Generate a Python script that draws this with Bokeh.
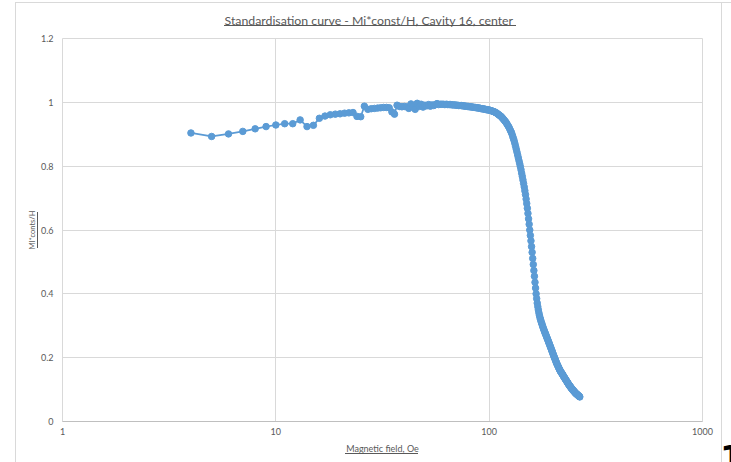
from bokeh.plotting import figure
from bokeh.models import (FixedTicker, CustomJSTickFormatter, ColumnDataSource, InlineStyleSheet)
from bokeh.embed import file_html
from bokeh.resources import INLINE

# ---------------- data ----------------
field_start = 4
field_stop = 266
field = list(range(field_start, field_stop + 1))   # measurement grid, 1 Oe steps

low_field = [0.904, 0.893, 0.901, 0.909, 0.917, 0.924, 0.929, 0.933, 0.933, 0.945,
             0.924, 0.928, 0.950, 0.957, 0.961, 0.963, 0.964, 0.966, 0.967, 0.968,
             0.956, 0.955, 0.988]                                   # 4..26
plateau = [0.978, 0.980, 0.981, 0.982, 0.983, 0.984, 0.984, 0.983, 0.970, 0.963,   # 27..36
           0.991, 0.987, 0.986, 0.987, 0.986, 0.981, 0.995, 0.986, 0.978, 0.997,   # 37..46
           0.987, 0.994, 0.985, 0.991, 0.989, 0.993, 0.988, 0.992, 0.990, 0.993,   # 47..56
           0.996, 0.993, 0.994, 0.994, 0.994, 0.993, 0.994, 0.993, 0.993, 0.993,   # 57..66
           0.992, 0.992, 0.992, 0.991, 0.991, 0.990, 0.990, 0.990, 0.989, 0.989,   # 67..76
           0.988, 0.988, 0.987, 0.987, 0.986, 0.986, 0.985, 0.985, 0.984, 0.984,   # 77..86
           0.983, 0.983, 0.982, 0.982, 0.981, 0.980, 0.980, 0.979, 0.979, 0.978,   # 87..96
           0.977, 0.977, 0.976]                                                    # 97..99
descent = [0.976, 0.975, 0.974, 0.973, 0.972, 0.971, 0.970, 0.968, 0.967, 0.965,   # 100..109
           0.963, 0.961, 0.959, 0.957, 0.955, 0.952, 0.949, 0.946, 0.943, 0.940,   # 110..119
           0.937, 0.933, 0.929, 0.925, 0.921, 0.916, 0.911, 0.906, 0.900, 0.893,   # 120..129
           0.886, 0.879, 0.871, 0.862, 0.853, 0.844, 0.835, 0.826, 0.817, 0.808,   # 130..139
           0.799, 0.789, 0.778, 0.768, 0.757, 0.746, 0.735, 0.723, 0.711, 0.697,   # 140..149
           0.683, 0.668, 0.652, 0.635, 0.618, 0.600, 0.583, 0.566, 0.548, 0.530,   # 150..159
           0.511, 0.492, 0.473, 0.455, 0.436, 0.418, 0.400, 0.385, 0.371, 0.360,   # 160..169
           0.350, 0.341, 0.333, 0.326, 0.320, 0.314, 0.309, 0.304, 0.299, 0.294]   # 170..179
tail = [0.290, 0.285, 0.281, 0.277, 0.273, 0.269, 0.265, 0.261, 0.257, 0.253,      # 180..189
        0.249, 0.245, 0.241, 0.237, 0.233, 0.229, 0.225, 0.221, 0.217, 0.213,      # 190..199
        0.209, 0.205, 0.201, 0.198, 0.194, 0.190, 0.187, 0.183, 0.180, 0.177,      # 200..209
        0.174, 0.171, 0.168, 0.165, 0.162, 0.160, 0.157, 0.155, 0.153, 0.151,      # 210..219
        0.149, 0.147, 0.145, 0.142, 0.140, 0.138, 0.136, 0.134, 0.132, 0.130,      # 220..229
        0.128, 0.126, 0.124, 0.122, 0.120, 0.118, 0.116, 0.114, 0.112, 0.111,      # 230..239
        0.109, 0.108, 0.106, 0.104, 0.103, 0.101, 0.100, 0.098, 0.097, 0.096,      # 240..249
        0.094, 0.093, 0.092, 0.090, 0.089, 0.088, 0.087, 0.086, 0.085, 0.084,      # 250..259
        0.083, 0.082, 0.081, 0.080, 0.079, 0.078, 0.077]                           # 260..266

ratio = low_field + plateau + descent + tail

x_ticks = [1, 10, 100, 1000]
y_ticks = [0, 0.2, 0.4, 0.6, 0.8, 1.0, 1.2]

title_text = "Standardisation curve - Mi*const/H, Cavity 16, center"
x_label = "Magnetic field, Oe"
y_label = "MI*conts/H"

# ---------------- style ----------------
BLUE = "#5B9BD5"
GRID = "#D9D9D9"
TXT = "#595959"
FONT = "Lato"

src = ColumnDataSource(dict(field=field, ratio=ratio))

p = figure(width=731, height=462, x_axis_type="log", x_range=(1, 1000), y_range=(0, 1.2),
           output_backend="svg", toolbar_location=None,
           min_border_left=62, min_border_right=29, min_border_top=38, min_border_bottom=41,
           title=title_text)

p.background_fill_color = "white"
p.border_fill_color = "white"
p.outline_line_color = GRID

p.title.align = "left"
p.title.offset = 162
p.title.text_font = FONT
p.title.text_font_size = "12.3px"
p.title.text_font_style = "normal"
p.title.text_color = TXT
p.title.standoff = 21

p.line("field", "ratio", source=src, line_color=BLUE, line_width=1.75)
p.scatter("field", "ratio", source=src, size=6.5, fill_color=BLUE, line_color=BLUE)

p.xaxis.ticker = FixedTicker(ticks=x_ticks, minor_ticks=[])
p.xaxis.formatter = CustomJSTickFormatter(code="return tick.toString()")
p.yaxis.ticker = FixedTicker(ticks=y_ticks, minor_ticks=[])
p.yaxis.formatter = CustomJSTickFormatter(code="return (Math.round(tick*10)/10).toString()")

for ax in (p.xaxis, p.yaxis):
    ax.major_tick_line_color = None
    ax.minor_tick_line_color = None
    ax.major_tick_out = 0
    ax.major_tick_in = 0
    ax.major_label_text_font = FONT
    ax.major_label_text_font_size = "9px"
    ax.major_label_text_color = TXT
    ax.axis_label_text_font = FONT
    ax.axis_label_text_font_style = "normal"
    ax.axis_label_text_color = TXT

p.xaxis.axis_label = x_label
p.yaxis.axis_label = y_label
p.xaxis.axis_label_text_font_size = "9px"
p.yaxis.axis_label_text_font_size = "7.5px"
p.xaxis.axis_line_color = "#BFBFBF"
p.yaxis.axis_line_color = None
p.xaxis.major_label_standoff = 6
p.yaxis.major_label_standoff = 9
p.xaxis.axis_label_standoff = 5
p.yaxis.axis_label_standoff = 1

p.xgrid.grid_line_color = GRID
p.ygrid.grid_line_color = GRID

# chart-area border, text underlines and the clipped glyph at the bottom right
# (drawn outside the plot frame with CSS, because canvas annotations are clipped to the frame)
css = f"""
:host::after {{
  content: "";
  position: absolute; left: 0; top: 0; width: 731px; height: 462px;
  pointer-events: none; z-index: 10;
  background:
    linear-gradient({GRID},{GRID}) 15px 2px / 716px 1px no-repeat,
    linear-gradient({GRID},{GRID}) 15px 2px / 1px 460px no-repeat,
    linear-gradient({GRID},{GRID}) 721px 2px / 1px 460px no-repeat,
    linear-gradient({TXT},{TXT}) 224px 25px / 292px 1px no-repeat,
    linear-gradient({TXT},{TXT}) 345px 453px / 73px 1px no-repeat,
    linear-gradient({TXT},{TXT}) 37px 212px / 1px 36px no-repeat;
}}
:host::before {{
  content: "1";
  position: absolute; left: 720px; top: 441px;
  font-family: 'DejaVu Sans'; font-weight: bold; font-size: 34px; line-height: 1; color: black;
  pointer-events: none; z-index: 11;
}}
"""
p.stylesheets = [InlineStyleSheet(css=css)]

open("out.html", "w").write(file_html(p, INLINE))
